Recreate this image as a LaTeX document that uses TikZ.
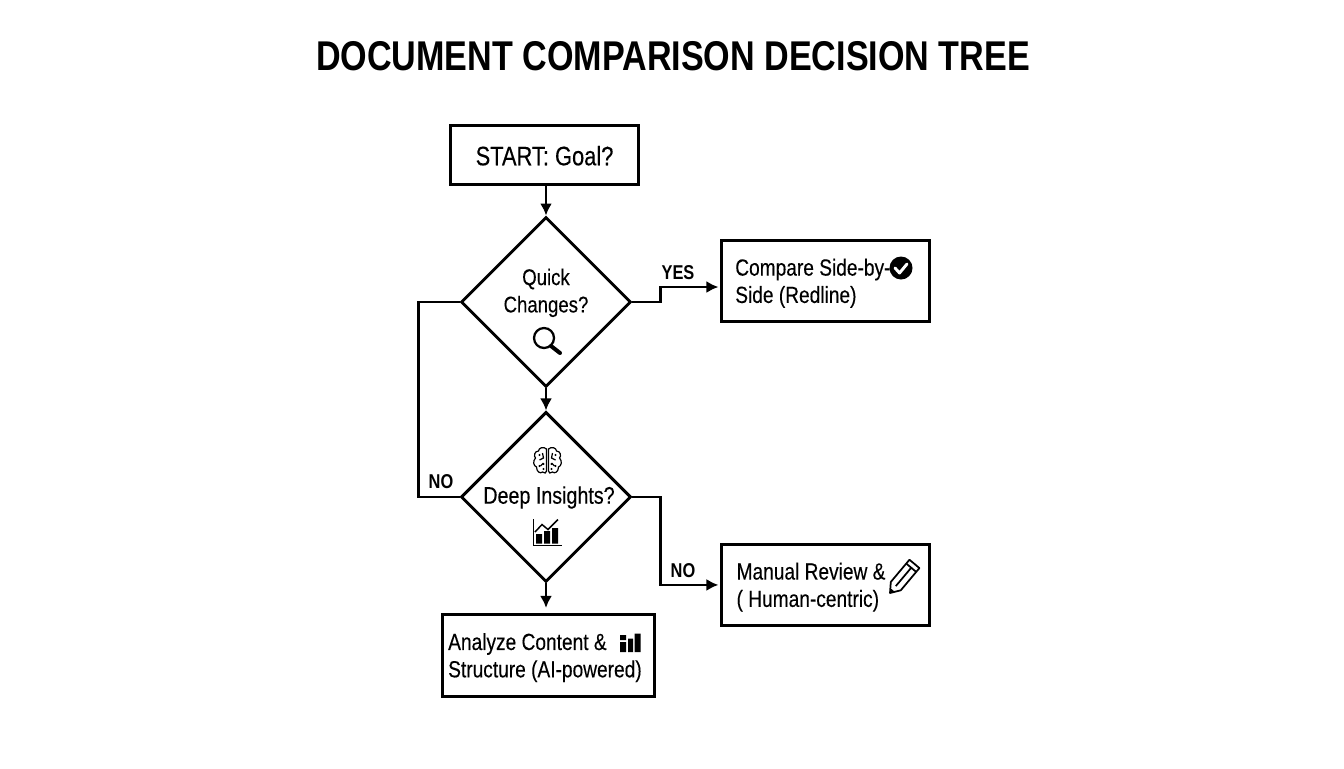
\documentclass[tikz,border=0pt]{standalone}
\usepackage{fontspec}
\setmainfont[FakeStretch=0.82, FakeBold=0.25, BoldFeatures={FakeBold=0}]{Liberation Sans}
\usetikzlibrary{arrows.meta, positioning, shapes.geometric}

\begin{document}
\begin{tikzpicture}[x=0.75pt, y=-0.75pt, node distance=24pt,
		      box/.style = {draw, line width=2.2pt, font=\fontsize{17.5}{20.5}\selectfont, align=flush left,
		      minimum height=61pt, inner ysep=0pt, text height=16pt},
		      choice/.style = {diamond, draw, line width=2.2pt, minimum width=127.5pt, minimum height=127.5pt, inner sep=0pt},
		      choicetext/.style = {font=\fontsize{17}{20.5}\selectfont, align=center, text depth=0pt},
		      flow/.style = {line width=1.9pt, -{Latex[length=9pt, width=9pt]}},
		      plainflow/.style = {line width=1.9pt},
		      tag/.style = {font=\fontsize{15}{18}\selectfont\bfseries, inner sep=0pt},
		      icon/.style = {line width=1.5pt} ]

   \useasboundingbox (0,0) rectangle (1344,768);

   \node (title) at (673,56) {\fontsize{31.2}{36}\selectfont\bfseries DOCUMENT COMPARISON DECISION TREE};

   \node (quick) [choice] at (546,302) {};
   \node (quicktext) [choicetext] at (546,290.5) {Quick\\Changes?};
   \node (deep) [choice, below=16.5pt of quick] {};
   \node (deeptext) [choicetext, font=\fontsize{18}{20.5}\selectfont] at (549,495) {Deep Insights?};

   \node (start) [box, above=22.5pt of quick, xshift=-1.1pt, minimum width=141pt, minimum height=44pt, align=center, font=\fontsize{20}{24}\selectfont] {START: Goal?};
   \node (analyze) [box, below=22.4pt of deep, xshift=1.9pt, text width=150.5pt, inner xsep=4.5pt] {Analyze Content \&\\Structure (AI-powered)};
   \node (compare) [box, right=66pt of quick, yshift=15.75pt, text width=136pt, inner xsep=10pt] {Compare Side-by-\\Side (Redline)};
   \node (manual) [box, right=66pt of deep, yshift=-66pt, text width=134pt, inner xsep=11pt] {Manual Review \&\\( Human-centric)};

   \draw[flow] (start.south -| quick.north) -- (quick.north);
   \draw[flow] (quick.south) -- (deep.north);
   \draw[flow, shorten >=4pt] (deep.south) -- (deep.south |- analyze.north);
   \draw[flow, shorten >=1.5pt] (quick.east) -- ++(28,0) |- ([yshift=-4.5pt]compare.west);
   \draw[flow, shorten >=1.5pt] (deep.east) -- ++(28,0) |- (manual.west);
   \draw[plainflow] (quick.west) -- ++(-41,0) |- (deep.west);

   \node (yes) [tag] at (678,273) {YES};
   \node (noleft) [tag] at (441,482) {NO};
   \node (noright) [tag] at (683,571) {NO};

   % magnifier
   \draw[icon, line width=1.7pt] (544,338) circle (10);
   \draw[line width=3pt, line cap=round] (551,346) -- (560,353);

   % check mark
   \fill (901,268) circle (11.5);
   \draw[white, line width=2.2pt, line cap=round, line join=round] (895,268) -- (899.5,273) -- (907,264);

   % brain
   \foreach \s in {-1,1} {
   \begin{scope}[shift={(547.5,461)}, xscale=\s, line width=0.9pt]
      \draw (1,-12) .. controls (4,-15) and (9,-13) .. (9,-10) .. controls (13,-10) and (14,-5) .. (12,-3)
         .. controls (15,0) and (14,5) .. (11,6) .. controls (11,11) and (7,13) .. (5,11)
         .. controls (3,13) and (1,12) .. (1,10) -- cycle;
      \draw (5,-8) -- (4,-3) -- (8,-1);
      \draw (4,2) -- (7,5);
      \fill (8,-6) circle (1.2) (4,3) circle (1.2) (8,5) circle (1.2) (4,8) circle (1.2);
   \end{scope}
   }

   % chart in the second choice
   \draw[line width=1.1pt] (533.5,519) -- (533.5,545.5) -- (561.5,545.5);
   \fill (536,534) rectangle (542,543.5) (544,531) rectangle (550,543.5) (552,528) rectangle (558,543.5);
   \draw[line width=1.1pt] (535,532) -- (542,524.5) -- (548,529.5) -- (558,519.5);

   % bars in the analyze box
   \fill (620,635) rectangle (626,640) (620,642) rectangle (626,652)
         (628,638.5) rectangle (633,652) (634.5,633.5) rectangle (640.5,652);

   % pencil
   \begin{scope}[shift={(890,593)}, rotate=50, line width=1.3pt, line join=round]
      \draw (0,0) -- (9,-6.5) -- (38,-6.5) -- (38,6.5) -- (9,6.5) -- cycle;
      \draw (9,0) -- (33,0) (33,-6.5) -- (33,6.5);
      \fill (0,0) -- (4,-3) -- (4,3) -- cycle;
   \end{scope}
\end{tikzpicture}
\end{document}
